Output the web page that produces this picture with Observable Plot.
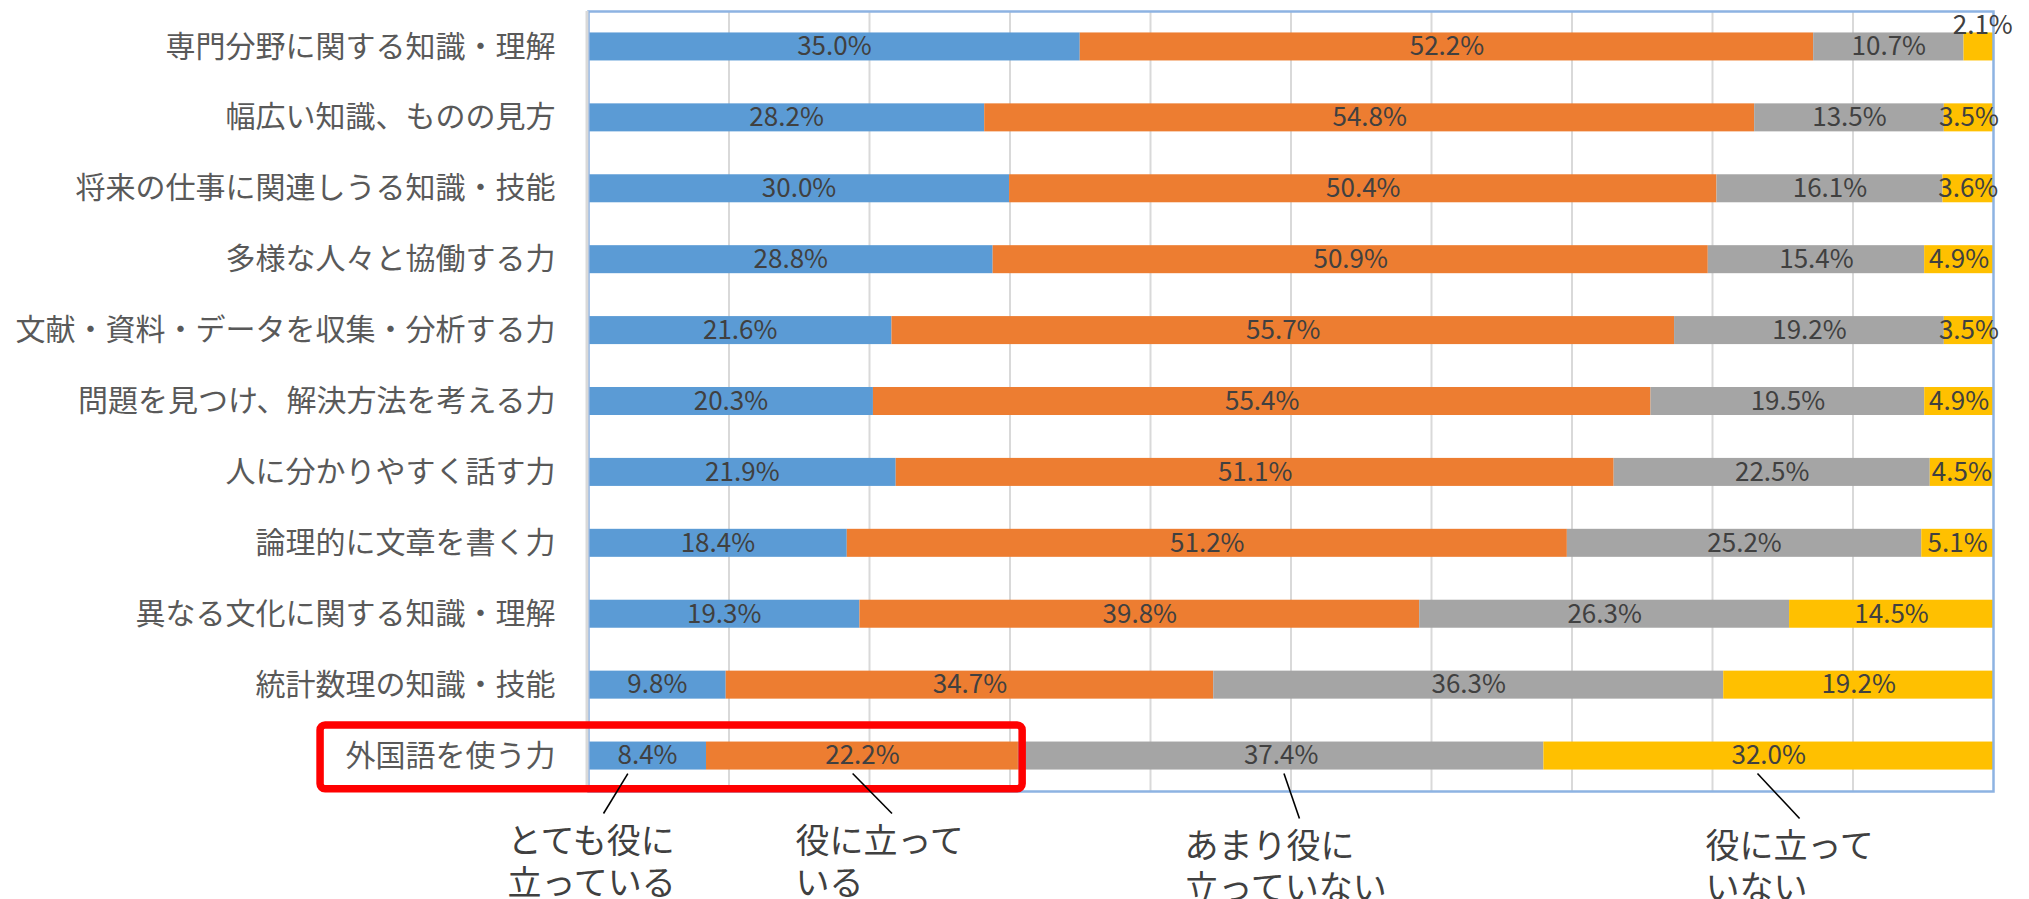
<!DOCTYPE html>
<html><head><meta charset="utf-8">
<script src="https://cdn.jsdelivr.net/npm/d3@7"></script>
<script src="https://cdn.jsdelivr.net/npm/@observablehq/plot@0.6"></script>
<style>html,body{margin:0;padding:0;background:#fff;} #chart svg{display:block;}</style>
</head><body><div id="chart"></div>
<script>
// ---- data ----
const categories = [
  "専門分野に関する知識・理解",
  "幅広い知識、ものの見方",
  "将来の仕事に関連しうる知識・技能",
  "多様な人々と協働する力",
  "文献・資料・データを収集・分析する力",
  "問題を見つけ、解決方法を考える力",
  "人に分かりやすく話す力",
  "論理的に文章を書く力",
  "異なる文化に関する知識・理解",
  "統計数理の知識・技能",
  "外国語を使う力"
];
const series = ["とても役に立っている", "役に立っている", "あまり役に立っていない", "役に立っていない"];
const veryUseful = [35.0, 28.2, 30.0, 28.8, 21.6, 20.3, 21.9, 18.4, 19.3, 9.8, 8.4];
const useful     = [52.2, 54.8, 50.4, 50.9, 55.7, 55.4, 51.1, 51.2, 39.8, 34.7, 22.2];
const notVery    = [10.7, 13.5, 16.1, 15.4, 19.2, 19.5, 22.5, 25.2, 26.3, 36.3, 37.4];
const notUseful  = [2.1, 3.5, 3.6, 4.9, 3.5, 4.9, 4.5, 5.1, 14.5, 19.2, 32.0];
const colors = ["#5B9BD5", "#ED7D31", "#A5A5A5", "#FFC000"];
const calloutLabels = ["とても役に\n立っている", "役に立って\nいる", "あまり役に\n立っていない", "役に立って\nいない"];
const highlighted = "外国語を使う力";

// ---- table for the library ----
const seriesValues = [veryUseful, useful, notVery, notUseful];
const segments = [];
categories.forEach((c, i) => {
  const total = d3.sum(seriesValues, s => s[i]);
  let cum = 0;
  seriesValues.forEach((s, k) => {
    const v = s[i];
    segments.push({category: c, row: i, series: series[k], value: v,
      x1: cum / total * 100, x2: (cum + v) / total * 100});
    cum += v;
  });
});

const FONT = "'Noto Sans CJK JP', 'Noto Sans', sans-serif";
const BAR = 0.395;
const hr = categories.indexOf(highlighted);
const hlSegs = segments.filter(d => d.row === hr);

// annotation layout (data units, relative to the highlighted row)
const callouts = calloutLabels.map((label, k) => ({
  label,
  x1: [2.8, 18.8, 49.5, 83.2][k],
  x2: [1.07, 21.6, 50.6, 86.2][k],
  y1: hr + 0.247,
  y2: hr + (k < 2 ? 0.81 : 0.88),
  tx: [-5.77, 14.73, 42.42, 79.5][k],
  ty: hr + (k < 2 ? 0.94 : 1.01)
}));
const box = [{x1: -19.07, x2: hlSegs[1].x2 + 0.3, y1: hr - 0.43, y2: hr + 0.47}];

const chart = Plot.plot({
  width: 2029, height: 899,
  marginLeft: 588, marginRight: 36, marginTop: 11, marginBottom: 108,
  x: {domain: [0, 100], axis: null},
  y: {domain: [-0.5, categories.length - 0.5], reverse: true, axis: null},
  color: {domain: series, range: colors},
  style: {fontFamily: FONT, background: "#fff", overflow: "visible"},
  marks: [
    Plot.gridX(d3.range(10, 100, 10), {stroke: "#d9d9d9", strokeOpacity: 1, strokeWidth: 2}),
    Plot.rect(segments, {x1: "x1", x2: "x2", y1: d => d.row - BAR / 2, y2: d => d.row + BAR / 2, fill: "series"}),
    Plot.frame({stroke: "#8db3e2", strokeWidth: 2.5}),
    Plot.ruleX([0], {stroke: "#d9d9d9", strokeWidth: 3, dx: -1.5}),
    Plot.axisY(d3.range(categories.length), {tickFormat: i => categories[i], tickSize: 0, tickPadding: 33, fontSize: 30, fill: "#595959", label: null}),
    Plot.text(segments.filter(d => d.value >= 3), {x: d => (d.x1 + d.x2) / 2, y: "row", text: d => d.value.toFixed(1) + "%", fontSize: 26, fill: "#404040"}),
    Plot.text(segments.filter(d => d.value < 3), {x: d => (d.x1 + d.x2) / 2, y: "row", text: d => d.value.toFixed(1) + "%", fontSize: 26, fill: "#404040", dy: -21, dx: 4}),
    Plot.rect(box, {x1: "x1", x2: "x2", y1: "y1", y2: "y2", fill: "none", stroke: "#ff0000", strokeWidth: 7.5, rx: 5}),
    Plot.link(callouts, {x1: "x1", y1: "y1", x2: "x2", y2: "y2", stroke: "#000", strokeWidth: 1.6}),
    Plot.text(callouts, {x: "tx", y: "ty", text: "label", textAnchor: "start", lineAnchor: "top", lineHeight: 1.25, fontSize: 34, fill: "#404040"})
  ]
});
document.getElementById("chart").appendChild(chart);
</script>
</body></html>
